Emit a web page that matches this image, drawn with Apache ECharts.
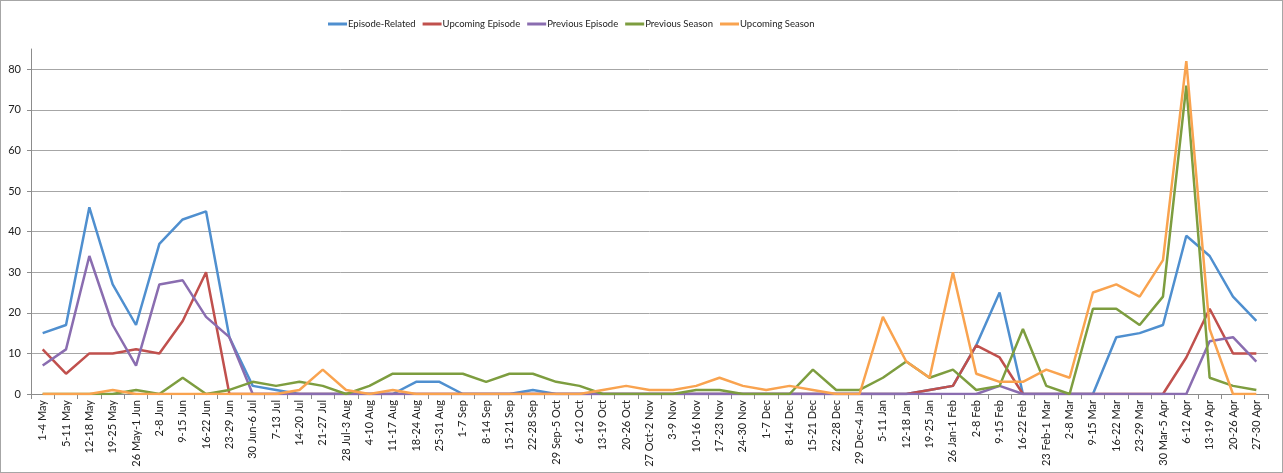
<!DOCTYPE html>
<html>
<head>
<meta charset="utf-8">
<script src="https://cdn.jsdelivr.net/npm/echarts@6/dist/echarts.min.js"></script>
<style>
  html, body { margin: 0; padding: 0; background: #fff; }
  #wrap { position: relative; width: 1283px; height: 473px; }
  #chart { position: absolute; left: 0; top: 0; width: 1283px; height: 473px; }
  #frame { position: absolute; left: 0; top: 0; width: 1283px; height: 473px; box-sizing: border-box; border: 1px solid #a6a6a6; pointer-events: none; }
</style>
</head>
<body>
<div id="wrap">
  <div id="chart"></div>
  <div id="frame"></div>
</div>
<script>
// Weekly counts, 1 May to 30 Apr
const weeks = [
  '1-4 May', '5-11 May', '12-18 May', '19-25 May', '26 May-1 Jun', '2-8 Jun', '9-15 Jun',
  '16-22 Jun', '23-29 Jun', '30 Jun-6 Jul', '7-13 Jul', '14-20 Jul', '21-27 Jul',
  '28 Jul-3 Aug', '4-10 Aug', '11-17 Aug', '18-24 Aug', '25-31 Aug', '1-7 Sep', '8-14 Sep',
  '15-21 Sep', '22-28 Sep', '29 Sep-5 Oct', '6-12 Oct', '13-19 Oct', '20-26 Oct',
  '27 Oct-2 Nov', '3-9 Nov', '10-16 Nov', '17-23 Nov', '24-30 Nov', '1-7 Dec', '8-14 Dec',
  '15-21 Dec', '22-28 Dec', '29 Dec-4 Jan', '5-11 Jan', '12-18 Jan', '19-25 Jan',
  '26 Jan-1 Feb', '2-8 Feb', '9-15 Feb', '16-22 Feb', '23 Feb-1 Mar', '2-8 Mar', '9-15 Mar',
  '16-22 Mar', '23-29 Mar', '30 Mar-5 Apr', '6-12 Apr', '13-19 Apr', '20-26 Apr', '27-30 Apr'
];

const episodeRelated = [
  15, 17, 46, 27, 17, 37, 43, 45, 14, 2, 1, 0, 0,
  0, 0, 0, 3, 3, 0, 0, 0, 1, 0, 0, 0, 0,
  0, 0, 0, 0, 0, 0, 0, 0, 0, 0, 0, 0, 1,
  2, 12, 25, 0, 0, 0, 0, 14, 15, 17, 39, 34, 24, 18
];
const upcomingEpisode = [
  11, 5, 10, 10, 11, 10, 18, 30, 0, 0, 0, 0, 0,
  0, 0, 0, 0, 0, 0, 0, 0, 0, 0, 0, 0, 0,
  0, 0, 0, 0, 0, 0, 0, 0, 0, 0, 0, 0, 1,
  2, 12, 9, 0, 0, 0, 0, 0, 0, 0, 9, 21, 10, 10
];
const previousEpisode = [
  7, 11, 34, 17, 7, 27, 28, 19, 14, 0, 0, 0, 0,
  0, 0, 0, 0, 0, 0, 0, 0, 0, 0, 0, 0, 0,
  0, 0, 0, 0, 0, 0, 0, 0, 0, 0, 0, 0, 0,
  0, 0, 2, 0, 0, 0, 0, 0, 0, 0, 0, 13, 14, 8
];
const previousSeason = [
  0, 0, 0, 0, 1, 0, 4, 0, 1, 3, 2, 3, 2,
  0, 2, 5, 5, 5, 5, 3, 5, 5, 3, 2, 0, 0,
  0, 0, 1, 1, 0, 0, 0, 6, 1, 1, 4, 8, 4,
  6, 1, 2, 16, 2, 0, 21, 21, 17, 24, 76, 4, 2, 1
];
const upcomingSeason = [
  0, 0, 0, 1, 0, 0, 0, 0, 0, 0, 0, 1, 6,
  1, 0, 1, 0, 0, 0, 0, 0, 0, 0, 0, 1, 2,
  1, 1, 2, 4, 2, 1, 2, 1, 0, 0, 19, 8, 4,
  30, 5, 3, 3, 6, 4, 25, 27, 24, 33, 82, 16, 0, 0
];

const seriesNames = ['Episode-Related', 'Upcoming Episode', 'Previous Episode', 'Previous Season', 'Upcoming Season'];
const seriesValues = [episodeRelated, upcomingEpisode, previousEpisode, previousSeason, upcomingSeason];
const seriesColors = ['#4f8fcf', '#c0504d', '#8a6db0', '#7d9d3f', '#f9a34f'];

const font = "Lato, 'Open Sans', sans-serif";

const chart = echarts.init(document.getElementById('chart'), null, { renderer: 'canvas', width: 1283, height: 473 });

chart.setOption({
  animation: false,
  color: seriesColors,
  textStyle: { fontFamily: font },
  legend: {
    top: 14,
    left: 323,
    itemGap: 7,
    itemWidth: 19,
    itemHeight: 3,
    icon: 'rect',
    textStyle: { fontFamily: font, fontSize: 9.5, color: '#222', padding: [0, 0, 0, -4] },
    data: seriesNames
  },
  grid: { left: 31, right: 15, top: 49, bottom: 79, outerBoundsMode: 'none' },
  xAxis: {
    type: 'category',
    data: weeks,
    boundaryGap: true,
    axisLine: { lineStyle: { color: '#8c8c8c', width: 1 } },
    axisTick: { show: true, length: 5, lineStyle: { color: '#8c8c8c' } },
    axisLabel: {
      interval: 0,
      rotate: 90,
      margin: 6,
      fontSize: 11,
      color: '#222',
      fontFamily: font
    },
    splitLine: { show: false }
  },
  yAxis: {
    type: 'value',
    min: 0,
    max: 85,
    interval: 10,
    axisLine: { show: true, lineStyle: { color: '#8c8c8c', width: 1 } },
    axisTick: { show: true, length: 4, lineStyle: { color: '#8c8c8c' } },
    axisLabel: { showMaxLabel: false, margin: 10, fontSize: 11, color: '#222', fontFamily: font },
    splitLine: { show: true, showMaxLine: false, lineStyle: { color: '#a6a6a6', width: 1 } }
  },
  series: seriesNames.map((name, i) => ({
    name: name,
    type: 'line',
    data: seriesValues[i],
    symbol: 'none',
    showSymbol: false,
    smooth: false,
    lineStyle: { width: 2.5, color: seriesColors[i] },
    itemStyle: { color: seriesColors[i] }
  }))
});
</script>
</body>
</html>
